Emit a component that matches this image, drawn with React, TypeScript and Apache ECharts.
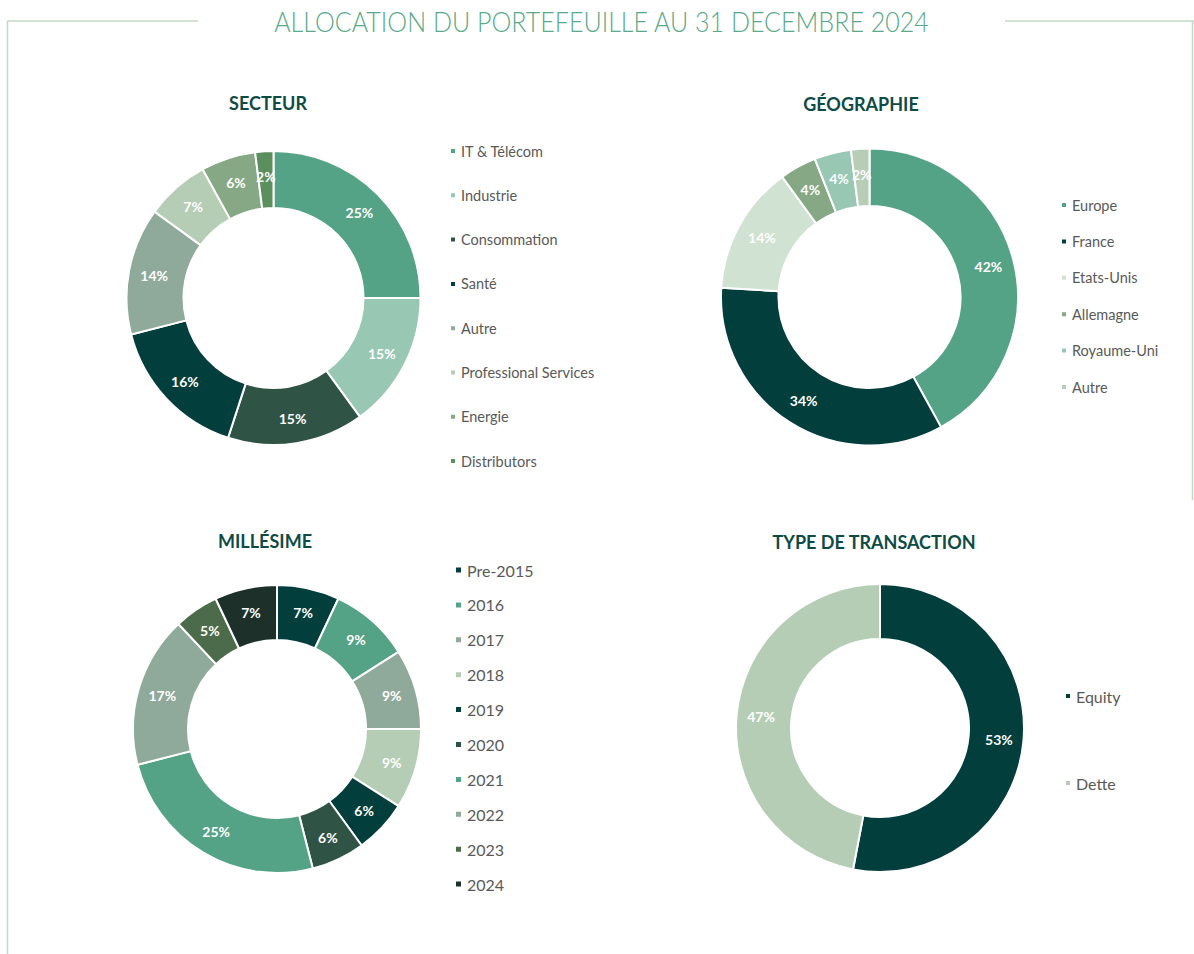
import React, { useEffect, useRef } from "react";
import * as echarts from "echarts";

// ---------- DATA ----------
const secteurNames = ["IT & Télécom", "Industrie", "Consommation", "Santé", "Autre", "Professional Services", "Energie", "Distributors"];
const secteurValues = [25, 15, 15, 16, 14, 7, 6, 2];
const secteurColors = ["#55a386", "#98c7b3", "#2f5446", "#023e3c", "#8fa99b", "#b5cdb4", "#86a884", "#5b8f5e"];

const geoNames = ["Europe", "France", "Etats-Unis", "Allemagne", "Royaume-Uni", "Autre"];
const geoValues = [42, 34, 14, 4, 4, 2];
const geoColors = ["#55a386", "#023e3c", "#d0e2d1", "#86a884", "#98c7b3", "#b7cdb6"];

const millesimeNames = ["Pre-2015", "2016", "2017", "2018", "2019", "2020", "2021", "2022", "2023", "2024"];
const millesimeValues = [7, 9, 9, 9, 6, 6, 25, 17, 5, 7];
const millesimeColors = ["#023e3c", "#55a386", "#8fa99b", "#b5cdb4", "#023e3c", "#2f5446", "#55a386", "#8fa99b", "#4c6b4b", "#1d3029"];

const typeNames = ["Equity", "Dette"];
const typeValues = [53, 47];
const typeColors = ["#023e3c", "#b5cdb4"];

const mainTitle = "ALLOCATION DU PORTEFEUILLE AU 31 DECEMBRE 2024";
const chartTitles = ["SECTEUR", "GÉOGRAPHIE", "MILLÉSIME", "TYPE DE TRANSACTION"];

// ---------- STYLE ----------
const FONT = "Lato, 'Noto Sans', sans-serif";
const LEGEND_TEXT = "#595959";
const TITLE_DARK = "#0e4b45";
const FRAME = "#c5d8c6";

function pieSeries(names: string[], values: number[], colors: string[], center: [number, number], radius: [number, number]) {
  return {
    type: "pie",
    center,
    radius,
    startAngle: 90,
    clockwise: true,
    avoidLabelOverlap: false,
    label: {
      show: true,
      position: "inside",
      formatter: "{c}%",
      color: "#ffffff",
      fontFamily: FONT,
      fontWeight: "bold",
      fontSize: 14,
    },
    labelLine: { show: false },
    itemStyle: { borderColor: "#ffffff", borderWidth: 2 },
    emphasis: { disabled: true },
    data: names.map((n, i) => ({ name: n, value: values[i], itemStyle: { color: colors[i] } })),
  };
}

function legend(names: string[], colors: string[], left: number, top: number, fontSize: number, lineHeight: number, gap: number, icon: number) {
  return {
    orient: "vertical",
    left,
    top,
    padding: 0,
    itemGap: gap,
    itemWidth: icon,
    itemHeight: icon,
    icon: "rect",
    selectedMode: false,
    textStyle: { color: LEGEND_TEXT, fontFamily: FONT, fontSize, lineHeight },
    data: names.map((n, i) => ({ name: n, itemStyle: { color: colors[i] }, icon: "rect" })),
  };
}

export default function App() {
  const ref = useRef<HTMLDivElement>(null);
  useEffect(() => {
    if (!ref.current) return;
    const chart = echarts.init(ref.current, null, { renderer: "svg" });
    const titleFont = `bold 18px ${FONT}`;
    const option: any = {
      animation: false,
      backgroundColor: "#ffffff",
      graphic: [
        { type: "line", shape: { x1: 7.5, y1: 21, x2: 198, y2: 21 }, style: { stroke: FRAME, lineWidth: 1.5 } },
        { type: "line", shape: { x1: 1005, y1: 21, x2: 1194, y2: 21 }, style: { stroke: FRAME, lineWidth: 1.5 } },
        { type: "line", shape: { x1: 7.5, y1: 21, x2: 7.5, y2: 954 }, style: { stroke: FRAME, lineWidth: 1.5 } },
        { type: "line", shape: { x1: 1192.5, y1: 21, x2: 1192.5, y2: 500 }, style: { stroke: FRAME, lineWidth: 1.5 } },
        {
          type: "text",
          x: 601.5,
          y: 21,
          scaleX: 0.895,
          style: { text: mainTitle, font: `300 28px ${FONT}`, fill: "#5aa98a", align: "center", verticalAlign: "middle" },
        },
        { type: "text", x: 268, y: 103, style: { text: chartTitles[0], font: titleFont, fill: TITLE_DARK, align: "center", verticalAlign: "middle" } },
        { type: "text", x: 861, y: 104, style: { text: chartTitles[1], font: titleFont, fill: TITLE_DARK, align: "center", verticalAlign: "middle" } },
        { type: "text", x: 265, y: 541, style: { text: chartTitles[2], font: titleFont, fill: TITLE_DARK, align: "center", verticalAlign: "middle" } },
        { type: "text", x: 874, y: 542, style: { text: chartTitles[3], font: titleFont, fill: TITLE_DARK, align: "center", verticalAlign: "middle" } },
      ],
      legend: [
        legend(secteurNames, secteurColors, 449, 142, 14.5, 18, 26.3, 6),
        legend(geoNames, geoColors, 1060, 196, 14.5, 18, 18.4, 6),
        legend(millesimeNames, millesimeColors, 454, 560, 16, 20, 14.9, 7),
        legend(typeNames, typeColors, 1064, 686, 16, 20, 67, 6),
      ],
      series: [
        pieSeries(secteurNames, secteurValues, secteurColors, [273.5, 298], [90, 147]),
        pieSeries(geoNames, geoValues, geoColors, [869.5, 297], [91, 148.5]),
        pieSeries(millesimeNames, millesimeValues, millesimeColors, [277, 729], [89, 144]),
        pieSeries(typeNames, typeValues, typeColors, [880, 728], [89, 144]),
      ],
    };
    chart.setOption(option);
    return () => chart.dispose();
  }, []);
  return <div ref={ref} style={{ position: "fixed", left: 0, top: 0, width: 1194, height: 954 }} />;
}
